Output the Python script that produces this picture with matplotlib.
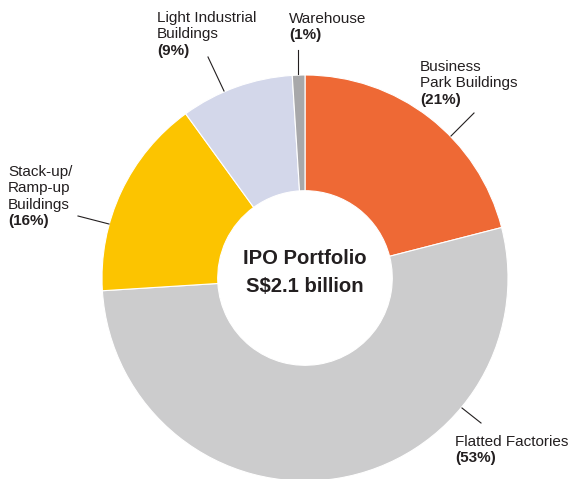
import matplotlib
matplotlib.use("Agg")
import matplotlib.pyplot as plt

plt.rcParams['font.family'] = ['Liberation Sans', 'DejaVu Sans']

# data, clockwise from 12 o'clock
segments = ["Business\nPark Buildings", "Flatted Factories", "Stack-up/\nRamp-up\nBuildings",
            "Light Industrial\nBuildings", "Warehouse"]
shares = [21, 53, 16, 9, 1]
colors = ["#EE6935", "#CCCCCD", "#FCC400", "#D3D7EA", "#A8A8AA"]
center_title = ["IPO Portfolio", "S$2.1 billion"]

W, H = 575, 479
fig = plt.figure(figsize=(W / 100, H / 100), dpi=100)
ax = fig.add_axes([0, 0, 1, 1])

cx, cy, R = 305, H - 278, 203
ax.pie(shares, colors=colors, startangle=90, counterclock=False,
       center=(cx, cy), radius=R,
       wedgeprops=dict(width=R * 0.57, edgecolor="white", linewidth=0.8))
ax.set_xlim(0, W)
ax.set_ylim(0, H)
ax.axis("off")

ink = "#231F20"
# label layout: (x, y of first line, leader start, leader end) in pixels from top-left
layout = [
    (420, 67, (474, 113), (451, 136)),
    (455, 442, (481, 423), (462, 408)),
    (8, 172, (78, 216), (109, 224)),
    (157, 18, (208, 57), (224, 91)),
    (289, 19, (298, 50), (298, 74)),
]
step = 16.3
for name, pct, (x, y, p0, p1) in zip(segments, shares, layout):
    lines = name.split("\n")
    for i, ln in enumerate(lines):
        ax.text(x, H - (y + i * step), ln, fontsize=11, color=ink, va="center", ha="left")
    ax.text(x, H - (y + len(lines) * step), "(%d%%)" % pct, fontsize=11,
            fontweight="bold", color=ink, va="center", ha="left")
    ax.plot([p0[0], p1[0]], [H - p0[1], H - p1[1]], color=ink, lw=0.8)

ax.text(cx, H - 258, center_title[0], fontsize=14.6, fontweight="bold", color=ink,
        ha="center", va="center")
ax.text(cx, H - 287, center_title[1], fontsize=14.6, fontweight="bold", color=ink,
        ha="center", va="center")

fig.savefig("out.png", dpi=100)
